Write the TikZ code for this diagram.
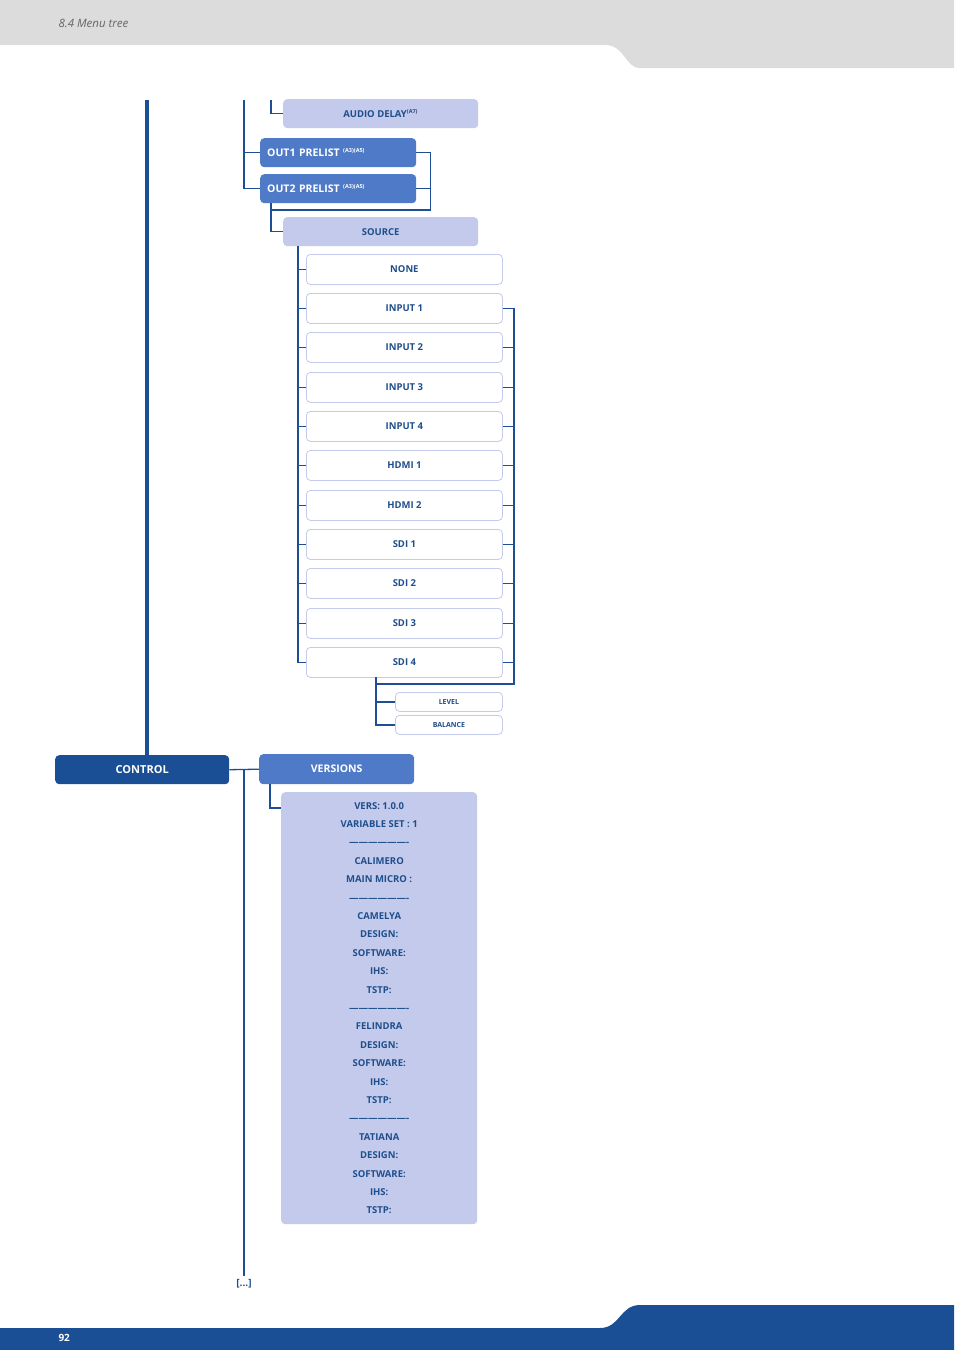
\documentclass[tikz,border=0pt]{standalone}
\usepackage{fontspec}
\setmainfont{Open Sans}
\begin{document}
\begin{tikzpicture}[x=1pt,y=-1pt,
  ln/.style={draw=lc,line width=1.3pt},
  bx/.style={rounded corners=4pt,anchor=north west,inner sep=0pt,font=\bfseries\fontsize{9.5}{11}\selectfont,text=tc},
  lav/.style={bx,fill=lav},
  wht/.style={bx,fill=white,draw=lav,line width=0.8pt},
  mid/.style={bx,fill=midb,text=white,font=\bfseries\fontsize{10.5}{12}\selectfont}]
\definecolor{lc}{HTML}{1F4E96}
\definecolor{tc}{HTML}{1F4E8C}
\definecolor{lav}{HTML}{C3CAEB}
\definecolor{midb}{HTML}{4F7AC7}
\definecolor{dkb}{HTML}{1A4F95}
\definecolor{hg}{HTML}{DCDCDC}
\useasboundingbox (0,0) rectangle (954,1350);
% header
\fill[hg] (0,0) -- (954,0) -- (954,68) -- (640,68) .. controls (625,68) and (625,45) .. (605,45) -- (0,45) -- cycle;
\node[anchor=west,text=gray!80!black,font=\itshape\fontsize{11.5}{13}\selectfont] (hdr) at (55,23) {8.4 Menu tree};
% footer
\fill[dkb] (0,1350) -- (954,1350) -- (954,1305) -- (640,1305) .. controls (620,1305) and (620,1328) .. (600,1328) -- (0,1328) -- cycle;
\node[anchor=west,text=white,font=\bfseries\fontsize{10}{12}\selectfont] (pg) at (55,1338) {92};
% nodes
\node[bx,fill=dkb,text=white,font=\bfseries\fontsize{11}{13}\selectfont,minimum width=174,minimum height=29] (ctrl) at (55,755) {CONTROL};
\node[lav,minimum width=195,minimum height=29] (ad) at (283,99) {AUDIO DELAY\textsuperscript{\fontsize{5.5}{6}\selectfont(A7)}};
\node[mid,minimum width=156,minimum height=29,align=left,text width=146] (o1) at (260,138) {\hspace*{2pt}OUT1 PRELIST \textsuperscript{\fontsize{5.5}{6}\selectfont(A3)(A5)}};
\node[mid,minimum width=156,minimum height=29,align=left,text width=146] (o2) at (260,174) {\hspace*{2pt}OUT2 PRELIST \textsuperscript{\fontsize{5.5}{6}\selectfont(A3)(A5)}};
\node[lav,minimum width=195,minimum height=29] (src) at (283,217) {SOURCE};
\foreach \n/\t/\yy in {s0/NONE/254,s1/INPUT 1/293,s2/INPUT 2/332,s3/INPUT 3/372,s4/INPUT 4/411,s5/HDMI 1/450,s6/HDMI 2/490,s7/SDI 1/529,s8/SDI 2/568,s9/SDI 3/608,s10/SDI 4/647}
  \node[wht,minimum width=196,minimum height=30] (\n) at (306,\yy) {\t};
\node[wht,font=\bfseries\fontsize{7}{8}\selectfont,minimum width=107,minimum height=19] (lvl) at (395,692) {LEVEL};
\node[wht,font=\bfseries\fontsize{7}{8}\selectfont,minimum width=107,minimum height=19] (bal) at (395,715) {BALANCE};
\node[mid,minimum width=155,minimum height=30] (ver) at (259,754) {VERSIONS};
\node[lav,minimum width=196,minimum height=432,align=center,anchor=north west,font=\bfseries\fontsize{9.5}{18.4}\selectfont] (vbox) at (281,792) {VERS: 1.0.0\\VARIABLE SET : 1\\-------------------\\CALIMERO\\MAIN MICRO :\\-------------------\\CAMELYA\\DESIGN:\\SOFTWARE:\\IHS:\\TSTP:\\-------------------\\FELINDRA\\DESIGN:\\SOFTWARE:\\IHS:\\TSTP:\\-------------------\\TATIANA\\DESIGN:\\SOFTWARE:\\IHS:\\TSTP:};
\node[text=tc,font=\bfseries\fontsize{10}{12}\selectfont] (more) at (244,1284) {[...]};
\coordinate (t1) at (147,100);
\coordinate (t2) at (244,100);
\coordinate (t3) at (271,100);
% connectors
\draw[draw=dkb,line width=3.5pt] (t1) -- (ctrl.north -| t1);
\draw[ln] (ctrl.east) -- (ver.west);
\draw[ln] (t2) |- (o2.west);
\draw[ln] (t2 |- o1.west) -- (o1.west);
\draw[ln] (t3) |- (ad.west);
\draw[ln] (o1.east) -- ++(14,0) |- (271,210);
\draw[ln] (o2.east) -- ++(14,0);
\draw[ln] (271,203) |- (src.west);
\draw[ln] (298,246) |- (s10.west);
\foreach \n in {s0,s1,s2,s3,s4,s5,s6,s7,s8,s9} \draw[ln] (298,0 |- \n.west) -- (\n.west);
\draw[ln] (s1.east) -- (514,0 |- s1.east) |- (376,684);
\foreach \n in {s2,s3,s4,s5,s6,s7,s8,s9,s10} \draw[ln] (\n.east) -- (514,0 |- \n.east);
\draw[ln] (376,677) |- (bal.west);
\draw[ln] (376,0 |- lvl.west) -- (lvl.west);
\draw[ln] (270,784) |- (281,808);
\draw[ln] (244,769) -- (more.north);
\end{tikzpicture}
\end{document}
